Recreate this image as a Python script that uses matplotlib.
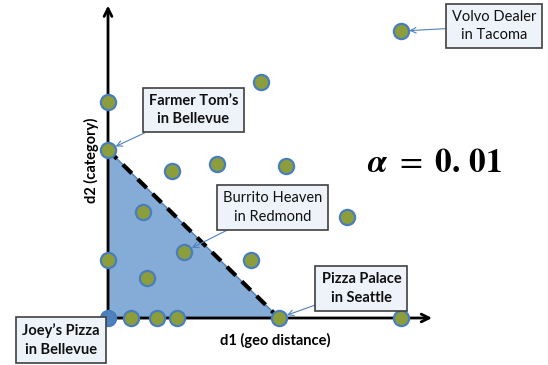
import matplotlib
matplotlib.use("Agg")
import matplotlib.pyplot as plt
from matplotlib.patches import Polygon

# ---- data ----
d1_vals = [1.35, 2.85, 4.04, 10.0, 17.15, 0, 0, 0, 2.03, 4.46, 8.35, 2.26, 13.98, 3.73, 6.39, 10.41, 8.93, 17.13]
d2_vals = [0, 0, 0, 0, 0, 3.45, 10.0, 12.84, 6.31, 3.95, 3.45, 2.40, 6.03, 8.77, 9.18, 9.05, 14.03, 17.08]
query_d1 = [0]
query_d2 = [0]
threshold_d1 = 10.0
threshold_d2 = 10.0

labels = ["Farmer Tom\u2019s\nin Bellevue", "Burrito Heaven\nin Redmond",
          "Pizza Palace\nin Seattle", "Volvo Dealer\nin Tacoma"]
label_targets = [(0, 10.0), (4.46, 3.95), (10.0, 0), (17.13, 17.08)]
label_bold = [True, False, True, False]
label_pos = [(5.0, 12.38), (9.62, 6.58), (14.82, 1.76), (22.57, 17.38)]
query_label = "Joey\u2019s Pizza\nin Bellevue"
alpha_text = r"$\mathbfit{\alpha}\ =\ \mathbf{0.\,01}$"

plt.rcParams['font.family'] = ['Lato', 'DejaVu Sans']
plt.rcParams['mathtext.fontset'] = 'stix'

fig = plt.figure(figsize=(5.48, 3.65), dpi=100)
ax = fig.add_axes([0, 0, 1, 1])
ax.set_xlim(-6.316, 25.73)
ax.set_ylim(-2.798, 18.93)
ax.axis('off')

# shaded region
tri = Polygon([(0, threshold_d2), (0, 0), (threshold_d1, 0)], closed=True,
              facecolor='#84ACD6', edgecolor='#4F81BD', lw=1.0, zorder=1)
ax.add_patch(tri)
ax.plot([0, threshold_d1], [threshold_d2, 0], color='black', lw=3,
        dashes=(3.0, 2.0), zorder=2)

# axes with arrows
ax.annotate('', xy=(18.95, 0), xytext=(0, 0),
            arrowprops=dict(arrowstyle='->', color='black', lw=2,
                            mutation_scale=14, shrinkA=0, shrinkB=0), zorder=3)
ax.annotate('', xy=(0, 18.6), xytext=(0, 0),
            arrowprops=dict(arrowstyle='->', color='black', lw=2,
                            mutation_scale=14, shrinkA=0, shrinkB=0), zorder=3)

# points
ax.scatter(d1_vals, d2_vals, s=120, facecolor='#8C9D3C', edgecolor='#4A7EBB',
           linewidth=1.6, zorder=5)
ax.scatter(query_d1, query_d2, s=120, facecolor='#4F81BD', edgecolor='#4A7EBB',
           linewidth=1.6, zorder=5)

box = dict(boxstyle='square,pad=0.42', facecolor='#EEF3FA', edgecolor='#404040', lw=1.2)
for lab, tgt, bold, pos in zip(labels, label_targets, label_bold, label_pos):
    ax.annotate(lab, xy=tgt, xytext=pos, ha='center', va='center',
                fontsize=10.5, fontweight='bold' if bold else 'normal',
                linespacing=1.4, color='#111111', bbox=box, zorder=6,
                arrowprops=dict(arrowstyle='->', color='#4F81BD', lw=0.8,
                                shrinkA=0, shrinkB=6, mutation_scale=10))

ax.text(-2.75, -1.31, query_label, ha='center', va='center', fontsize=10.5,
        fontweight='bold', linespacing=1.4, color='#111111', bbox=box, zorder=6)

ax.text(9.8, -1.35, "d1 (geo distance)", ha='center', va='center',
        fontsize=10.5, fontweight='bold')
ax.text(-0.95, 9.4, "d2 (category)", ha='center', va='center',
        fontsize=10.5, fontweight='bold', rotation=90)

ax.text(19.07, 9.23, alpha_text, ha='center', va='center', fontsize=24)

fig.savefig('out.png', dpi=100)
